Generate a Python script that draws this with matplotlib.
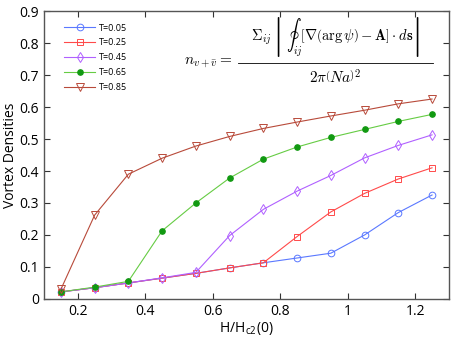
import numpy as np
import matplotlib
matplotlib.use("Agg")
import matplotlib.pyplot as plt

# field values H/Hc2(0)
h = [0.15, 0.25, 0.35, 0.45, 0.55, 0.65, 0.75, 0.85, 0.95, 1.05, 1.15, 1.25]

t005 = [0.022, 0.035, 0.050, 0.065, 0.080, 0.097, 0.113, 0.128, 0.143, 0.200, 0.270, 0.325]
t025 = [0.022, 0.035, 0.050, 0.065, 0.080, 0.097, 0.113, 0.195, 0.272, 0.330, 0.375, 0.410]
t045 = [0.022, 0.035, 0.050, 0.066, 0.083, 0.198, 0.280, 0.337, 0.386, 0.441, 0.480, 0.513]
t065 = [0.022, 0.037, 0.055, 0.213, 0.300, 0.378, 0.437, 0.475, 0.505, 0.530, 0.555, 0.577]
t085 = [0.030, 0.262, 0.390, 0.440, 0.478, 0.508, 0.533, 0.553, 0.572, 0.590, 0.610, 0.625]

labels = ["T=0.05", "T=0.25", "T=0.45", "T=0.65", "T=0.85"]

plt.rcParams['font.family'] = ['Open Sans', 'DejaVu Sans']
plt.rcParams['mathtext.fontset'] = 'cm'

fig = plt.figure(figsize=(4.57, 3.46), dpi=100)
ax = fig.add_axes([0.0963, 0.136, 0.886, 0.832])

lw = 0.8
ax.plot(h, t005, color='#5a78ff', lw=lw, marker='o', ms=4.8, mfc='none', mew=0.7, label=labels[0])
ax.plot(h, t025, color='#ff4a4a', lw=lw, marker='s', ms=4.2, mfc='none', mew=0.7, label=labels[1])
ax.plot(h, t045, color='#b060ff', lw=lw, marker='d', ms=5.5, mfc='none', mew=0.7, label=labels[2])
ax.plot(h, t065, color='#66cc44', lw=lw, marker='o', ms=3.8, mfc='#119911', mec='#119911', label=labels[3])
ax.plot(h, t085, color='#b84a3a', lw=lw, marker='v', ms=5.5, mfc='none', mew=0.7, label=labels[4])

ax.set_xlim(0.1, 1.3)
ax.set_ylim(0, 0.9)
ax.set_xticks([0.2, 0.4, 0.6, 0.8, 1.0, 1.2])
ax.set_xticklabels(["0.2", "0.4", "0.6", "0.8", "1", "1.2"])
ax.set_yticks(np.arange(0, 0.91, 0.1))
ax.set_yticklabels(["0", "0.1", "0.2", "0.3", "0.4", "0.5", "0.6", "0.7", "0.8", "0.9"])
ax.tick_params(direction='in', top=True, right=True, labelsize=10, length=4, width=0.8, color='#333333')
for s in ax.spines.values():
    s.set_color('#555555')
    s.set_linewidth(1.0)

ax.set_xlabel(r"H/H$_{\mathregular{c2}}$(0)", fontsize=10, labelpad=1)
ax.set_ylabel("Vortex Densities", fontsize=10, labelpad=1)

leg = ax.legend(loc='upper left', bbox_to_anchor=(0.03, 0.985), frameon=False, fontsize=6.5,
                handlelength=3.4, handletextpad=0.4, labelspacing=0.65)

# formula: built from pieces so the fraction keeps full-size text
fy = 0.82
x_eq = 0.465
x_l, x_r = 0.478, 0.96
fx = 0.5 * (x_l + x_r)
ax.text(x_eq, fy, r'$n_{v+\bar{v}} =$', transform=ax.transAxes, ha='right', va='center', fontsize=11)
ax.text(fx, fy + 0.012,
        r'$\Sigma_{ij}\,\left|\,\oint_{ij}\left[\nabla\left(\arg\psi\right)-\mathbf{A}\right]\cdot d\mathbf{s}\right|$',
        transform=ax.transAxes, ha='center', va='bottom', fontsize=10.5)
ax.text(fx, fy - 0.022, r'$2\pi\left(Na\right)^2$',
        transform=ax.transAxes, ha='center', va='top', fontsize=11)
ax.plot([x_l, x_r], [fy, fy], transform=ax.transAxes, color='black', lw=0.6)

fig.savefig("out.png", dpi=100)
